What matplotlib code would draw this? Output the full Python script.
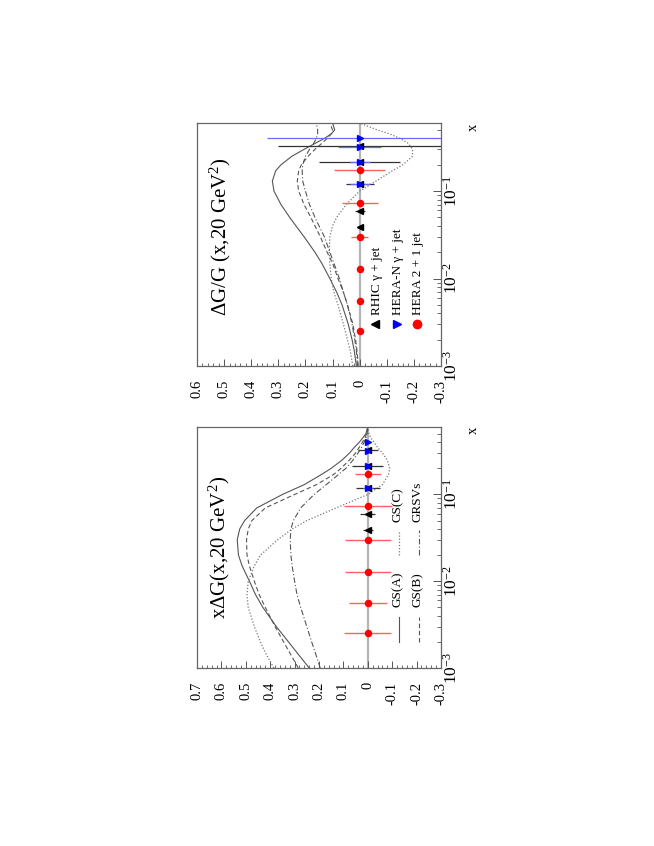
import matplotlib
matplotlib.use("Agg")
import matplotlib.pyplot as plt
import numpy as np
from matplotlib.ticker import MultipleLocator, LogLocator, NullFormatter, FuncFormatter

plt.rcParams['font.family'] = ['Liberation Serif', 'DejaVu Serif']
plt.rcParams['mathtext.fontset'] = 'custom'
plt.rcParams['mathtext.rm'] = 'Liberation Serif'
plt.rcParams['mathtext.it'] = 'Liberation Serif:italic'
plt.rcParams['mathtext.bf'] = 'Liberation Serif:bold'

# ---------------- data ----------------
x_grid = [0.001, 0.0015, 0.002, 0.003, 0.005, 0.007, 0.01, 0.015, 0.02, 0.03,
          0.04, 0.05, 0.07, 0.1, 0.13, 0.17, 0.2, 0.25, 0.3, 0.35, 0.4, 0.45,
          0.5, 0.6]

# x*DeltaG(x, 20 GeV^2)
xdg_gsa = [0.24, 0.29, 0.325, 0.375, 0.43, 0.46, 0.485, 0.515, 0.53, 0.535,
           0.525, 0.505, 0.455, 0.35, 0.26, 0.19, 0.15, 0.105, 0.075, 0.055,
           0.035, 0.02, 0.008, 0.0]
xdg_gsb = [0.285, 0.32, 0.345, 0.38, 0.42, 0.445, 0.465, 0.485, 0.495, 0.497,
           0.49, 0.475, 0.42, 0.30, 0.21, 0.14, 0.11, 0.075, 0.05, 0.035,
           0.022, 0.012, 0.005, 0.0]
xdg_gsc = [0.385, 0.42, 0.44, 0.465, 0.49, 0.495, 0.49, 0.465, 0.44, 0.37,
           0.31, 0.25, 0.13, 0.0, -0.06, -0.085, -0.09, -0.08, -0.06, -0.04,
           -0.025, -0.012, -0.005, 0.0]
xdg_grsv = [0.195, 0.215, 0.23, 0.25, 0.275, 0.29, 0.30, 0.31, 0.315, 0.318,
            0.315, 0.305, 0.275, 0.22, 0.17, 0.12, 0.09, 0.06, 0.04, 0.025,
            0.015, 0.008, 0.003, 0.0]

# DeltaG/G(x, 20 GeV^2)
r_gsa = [0.012, 0.02, 0.028, 0.042, 0.065, 0.085, 0.11, 0.14, 0.165, 0.205,
         0.235, 0.258, 0.29, 0.316, 0.322, 0.31, 0.29, 0.25, 0.205, 0.165,
         0.13, 0.105, 0.092, 0.10]
r_gsb = [0.005, 0.01, 0.015, 0.025, 0.045, 0.06, 0.08, 0.10, 0.12, 0.145,
         0.165, 0.18, 0.205, 0.225, 0.23, 0.225, 0.215, 0.19, 0.165, 0.14,
         0.12, 0.105, 0.10, 0.11]
r_gsc = [0.025, 0.035, 0.045, 0.06, 0.08, 0.095, 0.105, 0.11, 0.112, 0.11,
         0.10, 0.085, 0.05, 0.0, -0.06, -0.12, -0.16, -0.195, -0.195, -0.18,
         -0.15, -0.11, -0.065, 0.0]
r_grsv = [0.008, 0.012, 0.018, 0.028, 0.045, 0.06, 0.075, 0.095, 0.11, 0.13,
          0.15, 0.165, 0.185, 0.20, 0.21, 0.212, 0.21, 0.20, 0.185, 0.17,
          0.16, 0.155, 0.155, 0.16]

# projected measurements (central value 0)
hera_x = [0.0025, 0.0056, 0.0127, 0.030, 0.073, 0.174]
hera_val = [0, 0, 0, 0, 0, 0]
hera_err_xdg = [0.097, 0.077, 0.095, 0.095, 0.098, 0.053]
hera_err_r = [0.005, 0.005, 0.01, 0.032, 0.066, 0.094]

rhic_x = [0.039, 0.059, 0.12, 0.215, 0.33]
rhic_val = [0, 0, 0, 0, 0]
rhic_err_xdg = [0.02, 0.03, 0.05, 0.064, 0.04]
rhic_err_r = [0.01, 0.018, 0.052, 0.15, 0.30]

heran_x = [0.12, 0.215, 0.32, 0.40]
heran_val = [0, 0, 0, 0]
heran_err_xdg = [0.02, 0.01, 0.01, 0.01]
heran_err_r = [0.037, 0.037, 0.08, 0.34]

zero_level = 0.0
x_ticks_lo, x_ticks_hi = 1e-3, 0.6

# ---------------- figure ----------------
fig = plt.figure(figsize=(6.54, 8.46), dpi=100)
ax1 = fig.add_axes([0.3012, 0.2104, 0.3731, 0.2849])   # x DeltaG
ax2 = fig.add_axes([0.3012, 0.5674, 0.3731, 0.2872])   # DeltaG/G

line_col = '#555555'
styles = {
    'GS(A)': dict(ls='-', color=line_col, lw=0.8),
    'GS(B)': dict(ls=(0, (4, 2.5)), color=line_col, lw=0.8),
    'GS(C)': dict(ls=(0, (1, 1.5)), color='#777777', lw=0.9),
    'GRSVs': dict(ls=(0, (5, 2, 1, 2)), color=line_col, lw=0.8),
}


def vfmt(v, p):
    if abs(v) < 1e-9:
        return '0'
    return ('%.1f' % v)


def lfmt(v, p):
    return r'$10^{%d}$' % int(round(np.log10(v)))


def setup(ax, vmax, vmin):
    ax.set_xlim(vmax, vmin)
    ax.set_yscale('log')
    ax.set_ylim(x_ticks_lo, x_ticks_hi)
    for s in ax.spines.values():
        s.set_color('#666666')
        s.set_linewidth(0.9)
    ax.xaxis.set_major_locator(MultipleLocator(0.1))
    ax.xaxis.set_minor_locator(MultipleLocator(0.02))
    ax.xaxis.set_major_formatter(FuncFormatter(vfmt))
    ax.tick_params(axis='x', which='both', direction='in', bottom=True, top=False,
                   labelbottom=True, labelrotation=90, colors='#555555',
                   labelcolor='black', labelsize=10.5, pad=10)
    ax.tick_params(axis='x', which='major', length=5, width=0.7)
    ax.tick_params(axis='x', which='minor', length=2.5, width=0.6)
    ax.yaxis.tick_right()
    ax.yaxis.set_major_locator(LogLocator(base=10, numticks=10))
    ax.yaxis.set_minor_locator(LogLocator(base=10, subs=np.arange(2, 10), numticks=20))
    ax.yaxis.set_major_formatter(FuncFormatter(lfmt))
    ax.yaxis.set_minor_formatter(NullFormatter())
    ax.tick_params(axis='y', which='both', direction='in', left=False, right=True,
                   labelleft=False, labelright=True, labelrotation=90,
                   colors='#555555', labelcolor='black', labelsize=12.5, pad=1.5)
    ax.tick_params(axis='y', which='major', length=6, width=0.7)
    ax.tick_params(axis='y', which='minor', length=3, width=0.6)
    ax.set_ylabel('x', fontsize=10.5, rotation=90)
    ax.yaxis.set_label_position('right')
    ax.axvline(zero_level, color='#b4b4b4', lw=1.6, zorder=1)


setup(ax1, 0.7, -0.3)
setup(ax2, 0.6, -0.3)
ax1.yaxis.set_label_coords(1.133, 0.988)
ax2.yaxis.set_label_coords(1.133, 0.984)
for ax in (ax1, ax2):
    ax.yaxis.label.set_verticalalignment('center')
    ax.yaxis.label.set_horizontalalignment('center')
    ax.yaxis.label.set_rotation_mode('default')
    for lbl in ax.get_yticklabels():
        lbl.set_verticalalignment('center')

# curves
for ax, curves in ((ax1, (xdg_gsa, xdg_gsb, xdg_gsc, xdg_grsv)),
                   (ax2, (r_gsa, r_gsb, r_gsc, r_grsv))):
    for name, vals in zip(['GS(A)', 'GS(B)', 'GS(C)', 'GRSVs'], curves):
        ax.plot(vals, x_grid, zorder=2, **styles[name])

# data points
red_err = '#ff6262'
for ax, he, re_, ne in ((ax1, hera_err_xdg, rhic_err_xdg, heran_err_xdg),
                        (ax2, hera_err_r, rhic_err_r, heran_err_r)):
    ax.errorbar(hera_val, hera_x, xerr=he, fmt='o', color='red', ecolor=red_err,
                elinewidth=1.0, capsize=0, ms=4.4, mec='red', zorder=4)
    ax.errorbar(rhic_val, rhic_x, xerr=re_, fmt='<', color='black', ecolor='#333333',
                elinewidth=0.9, capsize=0, ms=4.0, zorder=5)
    ax.errorbar(heran_val, heran_x, xerr=ne, fmt='>', color='blue', ecolor='#6a6aff',
                elinewidth=0.9, capsize=0, ms=4.5, zorder=5)

# titles
ax1.text(0.09, 0.502, r'x$\Delta$G(x,20 GeV$^{2}$)', rotation=90, ha='center',
         va='center', fontsize=15, transform=ax1.transAxes)
ax2.text(0.094, 0.533, r'$\Delta$G/G (x,20 GeV$^{2}$)', rotation=90, ha='center',
         va='center', fontsize=15, transform=ax2.transAxes)

# legend of panel 1 (theory curves)
leg1 = [('GS(A)', 0.828, 0.109, 0.213, 0.254),
        ('GS(B)', 0.910, 0.109, 0.213, 0.254),
        ('GS(C)', 0.828, 0.469, 0.573, 0.607),
        ('GRSVs', 0.910, 0.469, 0.573, 0.607)]
for name, lx, y0, y1, ty in leg1:
    ax1.plot([lx, lx], [y0, y1], transform=ax1.transAxes, clip_on=False, **styles[name])
    ax1.text(lx - 0.005, ty, name, rotation=90, ha='center', va='bottom',
             fontsize=9.5, transform=ax1.transAxes)

# legend of panel 2 (data sets)
leg2 = [('RHIC γ + jet', '<', 'black', 0.730, 6.0),
        ('HERA-N γ + jet', '>', 'blue', 0.819, 6.0),
        ('HERA 2 + 1 jet', 'o', 'red', 0.900, 6.0)]
for name, mk, col, lx, ms in leg2:
    ax2.plot([lx], [0.173], marker=mk, color=col, ms=ms, ls='none',
             transform=ax2.transAxes, clip_on=False)
    ax2.text(lx + 0.006, 0.21, name, rotation=90, ha='center', va='bottom',
             fontsize=9.5, transform=ax2.transAxes)

fig.savefig('out.png', dpi=100)
